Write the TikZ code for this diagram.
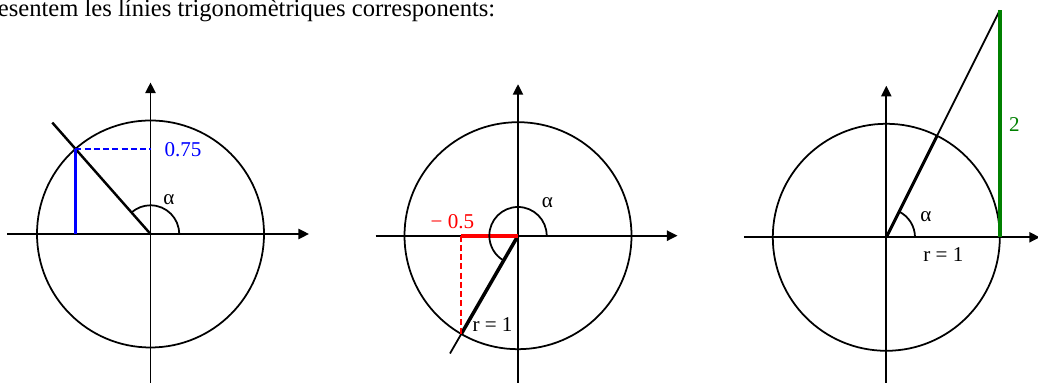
\documentclass[tikz,border=0pt]{standalone}
\usepackage{fontspec}
\setmainfont{Liberation Serif}
\usepackage{xcolor}
\usepackage{tikz}
\usetikzlibrary{arrows.meta,calc}
\definecolor{sinblue}{HTML}{0000FF}
\definecolor{cosred}{HTML}{FF0000}
\definecolor{tangreen}{HTML}{008000}

\tikzset{
    axisline/.style={line width=1pt, -{Triangle[width=5.8pt,length=6pt]}},
    thinline/.style={line width=1pt},
    trigline/.style={line width=2.2pt},
    dashline/.style={line width=1pt, dash pattern=on 0.12cm off 0.065cm},
}

\begin{document}
\begin{tikzpicture}[font=\fontsize{12}{14}\selectfont]
    \useasboundingbox (0,0) rectangle (20.76,7.66);
    \node[anchor=base west, inner sep=0, font=\fontsize{14}{16}\selectfont] (title) at (-0.05,7.33) {esentem les línies trigonomètriques corresponents:};

    % sinus
    \begin{scope}[shift={(3.01,2.98)}]
        \coordinate (o1) at (0,0);
        \draw[axisline] (-2.87,0) -- (3.17,0);
        \draw[axisline] (0,-3.1) -- (0,3.03);
        \draw[thinline] (o1) circle (2.27);
        \coordinate (p1) at (131.4:2.27);
        \coordinate (q1) at (131.4:2.97);
        \coordinate (s1) at (p1 |- o1);
        \coordinate (t1) at (o1 |- p1);
        \draw[line width=1.4pt] (o1) -- (q1);
        \draw[trigline, sinblue] (s1) -- (p1);
        \draw[dashline, sinblue] (p1) -- (t1);
        \draw[thinline] (0.574,0) arc[start angle=0, end angle=131.4, radius=0.574];
        \node[text=sinblue] (v1) at (0.65,1.68) {0.75};
        \node (a1) at (0.37,0.69) {α};
    \end{scope}

    % cosinus
    \begin{scope}[shift={(10.36,2.946)}]
        \coordinate (o2) at (0,0);
        \draw[axisline] (-2.85,0) -- (3.19,0);
        \draw[axisline] (0,-3.1) -- (0,3.03);
        \draw[thinline] (o2) circle (2.27);
        \coordinate (p2) at (240:2.27);
        \coordinate (q2) at (240:2.72);
        \coordinate (c2) at (p2 |- o2);
        \draw[thinline] (p2) -- (q2);
        \draw[line width=2pt] (o2) -- (p2);
        \draw[trigline, cosred] (c2) -- (o2);
        \draw[dashline, cosred] (c2) -- (p2);
        \draw[thinline] (0.574,0) arc[start angle=0, end angle=240, radius=0.574];
        \node[text=cosred] (v2) at (-1.31,0.29) {− 0.5};
        \node (a2) at (0.59,0.67) {α};
        \node (r2) at (-0.51,-1.77) {r = 1};
    \end{scope}

    % tangent
    \begin{scope}[shift={(17.726,2.914)}]
        \coordinate (o3) at (0,0);
        \draw[axisline] (-2.85,0) -- (3.07,0);
        \draw[axisline] (0,-3.1) -- (0,3.03);
        \draw[thinline] (o3) circle (2.27);
        \coordinate (p3) at (63.43:2.27);
        \coordinate (e3) at (2.27,0);
        \coordinate (t3) at (2.27,4.54);
        \draw[thinline] (p3) -- (t3);
        \draw[line width=1.7pt] (o3) -- (p3);
        \draw[trigline, tangreen] (e3) -- (t3);
        \draw[thinline] (0.574,0) arc[start angle=0, end angle=63.43, radius=0.574];
        \node[text=tangreen] (v3) at (2.56,2.25) {2};
        \node (a3) at (0.79,0.41) {α};
        \node (r3) at (1.14,-0.35) {r = 1};
    \end{scope}
\end{tikzpicture}
\end{document}
